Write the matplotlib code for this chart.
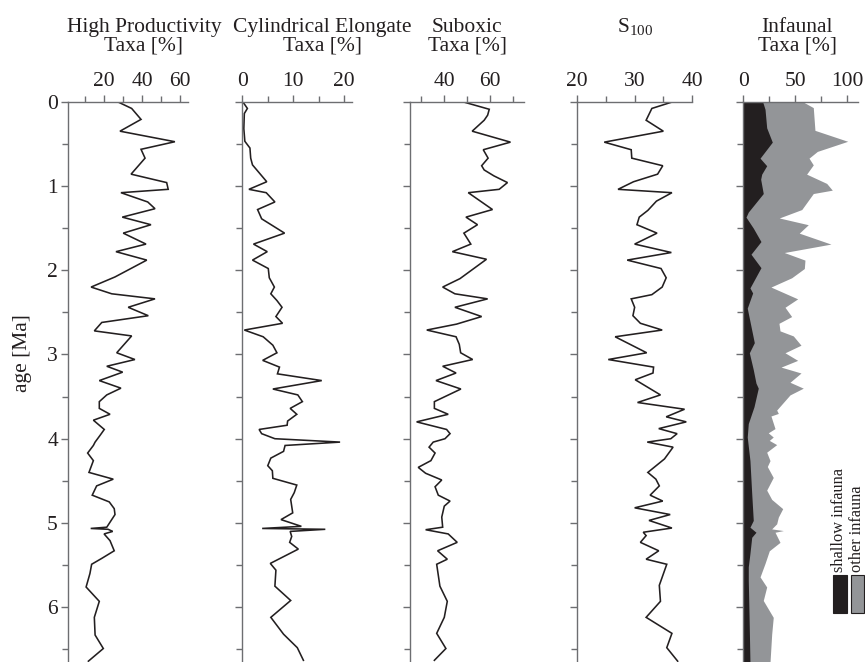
import matplotlib
matplotlib.use('Agg')
import matplotlib.pyplot as plt
from matplotlib.ticker import FixedLocator, NullFormatter
from matplotlib.patches import Rectangle

plt.rcParams['font.family'] = ['Liberation Serif', 'DejaVu Serif']
plt.rcParams['mathtext.fontset'] = 'custom'
plt.rcParams['mathtext.rm'] = 'Liberation Serif'

# ---------------- data ----------------
hp_age = [0.01, 0.08, 0.21, 0.35, 0.475, 0.565, 0.67, 0.86, 0.96, 1.04, 1.08, 1.19, 1.27, 1.37,
          1.46, 1.56, 1.69, 1.78, 1.88, 2.08, 2.20, 2.28, 2.34, 2.44, 2.54, 2.62, 2.72, 2.78,
          2.98, 3.06, 3.14, 3.21, 3.31, 3.40, 3.48, 3.56, 3.64, 3.71, 3.78, 3.89, 3.96, 4.04,
          4.08, 4.17, 4.26, 4.40, 4.48, 4.56, 4.67, 4.75, 4.83, 4.90, 5.05, 5.065, 5.075, 5.10,
          5.13, 5.21, 5.33, 5.42, 5.49, 5.60, 5.76, 5.93, 6.12, 6.33, 6.49, 6.64]
hp_val = [28.1, 34.6, 39.5, 28.5, 57.2, 39.5, 41.6, 34.3, 52.9, 53.7, 29.0, 43.0, 46.8, 29.7,
          44.7, 30.2, 42.1, 26.4, 42.5, 25.9, 13.4, 24.2, 46.8, 32.8, 43.3, 19.0, 15.1, 34.6,
          26.8, 36.3, 21.6, 29.9, 17.7, 29.0, 21.6, 17.7, 17.7, 23.3, 14.6, 20.3, 18.1, 15.5,
          14.6, 11.6, 14.6, 12.3, 25.0, 16.3, 14.0, 22.9, 25.5, 25.9, 21.6, 13.2, 22.3, 24.7,
          20.2, 23.3, 25.5, 19.0, 13.7, 12.8, 10.8, 17.7, 15.1, 15.5, 19.8, 12.0]

ce_age = [0.01, 0.08, 0.14, 0.32, 0.47, 0.55, 0.67, 0.75, 0.95, 1.04, 1.08, 1.19, 1.28, 1.39,
          1.56, 1.69, 1.78, 1.88, 1.98, 2.09, 2.20, 2.28, 2.36, 2.44, 2.55, 2.63, 2.71, 2.79,
          2.89, 2.98, 3.07, 3.15, 3.23, 3.31, 3.41, 3.48, 3.56, 3.64, 3.71, 3.79, 3.84, 3.89,
          3.94, 4.00, 4.04, 4.08, 4.15, 4.23, 4.32, 4.38, 4.47, 4.55, 4.64, 4.72, 4.88, 4.96,
          5.04, 5.065, 5.075, 5.10, 5.16, 5.23, 5.31, 5.48, 5.56, 5.75, 5.92, 6.12, 6.32, 6.48, 6.63]
ce_val = [0.2, 1.0, 0.4, 0.3, 0.5, 1.5, 1.65, 2.0, 4.8, 1.3, 4.7, 6.4, 3.0, 3.8,
          8.3, 2.2, 4.9, 2.0, 5.1, 5.3, 6.3, 5.6, 6.8, 7.8, 6.6, 7.9, 0.4, 4.1,
          6.0, 6.8, 4.0, 7.3, 6.9, 15.6, 6.0, 10.9, 11.8, 9.4, 10.7, 8.9, 8.8, 3.3,
          3.8, 6.4, 19.2, 8.4, 8.1, 5.6, 5.0, 5.9, 6.0, 10.7, 10.2, 9.5, 9.9, 7.6,
          11.6, 3.9, 16.3, 9.4, 9.7, 9.3, 11.0, 5.5, 6.6, 6.4, 9.5, 5.6, 8.1, 10.8, 12.0]

sub_age = [0.01, 0.09, 0.16, 0.22, 0.35, 0.48, 0.57, 0.67, 0.76, 0.81, 0.88, 0.96, 1.04, 1.08,
           1.28, 1.37, 1.46, 1.56, 1.69, 1.78, 1.87, 2.10, 2.20, 2.28, 2.34, 2.44, 2.55, 2.64,
           2.71, 2.79, 2.88, 2.98, 3.06, 3.14, 3.22, 3.31, 3.41, 3.56, 3.64, 3.71, 3.80, 3.89,
           3.94, 4.00, 4.04, 4.10, 4.17, 4.26, 4.34, 4.41, 4.49, 4.57, 4.67, 4.74, 4.80, 4.93,
           5.05, 5.08, 5.13, 5.23, 5.33, 5.43, 5.49, 5.75, 5.93, 6.12, 6.31, 6.49, 6.63]
sub_val = [49.3, 59.6, 58.9, 57.4, 52.2, 68.8, 57.0, 59.1, 56.3, 57.4, 61.6, 67.5, 63.9, 50.5,
           61.0, 49.5, 54.5, 48.6, 51.6, 43.6, 58.4, 46.9, 39.4, 44.7, 58.9, 44.7, 56.3, 45.4,
           32.5, 45.2, 46.6, 47.2, 52.4, 39.4, 45.2, 36.5, 47.3, 35.8, 35.8, 41.8, 28.1, 41.1,
           42.6, 40.4, 35.3, 33.5, 36.1, 34.3, 28.8, 32.0, 39.0, 36.1, 37.5, 42.6, 40.1, 39.0,
           39.4, 32.0, 41.8, 45.7, 37.2, 41.4, 36.8, 38.2, 41.4, 40.1, 36.8, 40.8, 35.8]

s100_age = [0.00, 0.08, 0.22, 0.35, 0.48, 0.57, 0.67, 0.76, 0.86, 0.95, 1.04, 1.08, 1.18, 1.29,
            1.37, 1.46, 1.56, 1.69, 1.79, 1.88, 1.98, 2.09, 2.20, 2.29, 2.34, 2.44, 2.54, 2.63,
            2.71, 2.79, 2.98, 3.06, 3.15, 3.22, 3.30, 3.48, 3.57, 3.65, 3.74, 3.80, 3.88, 3.94,
            4.00, 4.04, 4.10, 4.24, 4.40, 4.48, 4.56, 4.67, 4.74, 4.82, 4.90, 4.97, 5.06, 5.11,
            5.15, 5.23, 5.33, 5.43, 5.49, 5.74, 5.93, 6.12, 6.31, 6.48, 6.64]
s100_val = [36.7, 33.0, 32.0, 35.0, 24.7, 29.4, 29.5, 34.9, 34.0, 29.8, 27.1, 36.5, 33.8, 32.3,
            30.8, 30.4, 33.9, 30.0, 36.4, 28.7, 34.6, 35.5, 34.8, 33.0, 29.4, 30.0, 29.7, 31.0,
            34.8, 26.6, 32.1, 25.4, 33.3, 33.2, 30.1, 34.5, 30.5, 38.7, 35.5, 39.0, 34.2, 37.4,
            36.3, 32.2, 36.7, 35.2, 32.3, 33.7, 34.3, 32.7, 34.9, 30.0, 36.2, 32.5, 36.5, 31.5,
            32.0, 31.0, 34.2, 32.0, 35.6, 34.3, 34.5, 32.0, 36.5, 35.6, 37.5]

shallow_age = [0.00, 0.09, 0.31, 0.48, 0.67, 0.76, 0.86, 0.92, 1.09, 1.31, 1.37, 1.50, 1.66, 1.81,
               1.97, 2.21, 2.27, 2.45, 2.86, 2.98, 3.18, 3.34, 3.40, 3.62, 3.82, 3.98, 4.26, 4.65,
               4.97, 5.05, 5.11, 5.17, 5.36, 5.52, 5.68, 6.08, 6.65]
shallow_val = [18.6, 20.9, 22.5, 27.9, 16.1, 22.5, 17.7, 16.7, 19.2, 4.8, 2.6, 9.6, 17.0, 7.4,
               17.0, 6.4, 9.0, 3.8, 10.6, 5.8, 9.6, 12.2, 14.4, 10.3, 4.8, 3.8, 6.4, 8.1,
               9.6, 6.4, 12.2, 8.1, 6.4, 4.8, 4.8, 5.5, 6.4]

total_age = [0.00, 0.07, 0.34, 0.47, 0.59, 0.67, 0.75, 0.86, 0.97, 1.05, 1.09, 1.28, 1.38, 1.46,
             1.56, 1.69, 1.79, 1.88, 1.98, 2.09, 2.20, 2.34, 2.44, 2.55, 2.63, 2.72, 2.78, 2.89,
             2.98, 3.07, 3.15, 3.22, 3.33, 3.40, 3.48, 3.66, 3.70, 3.73, 3.88, 3.93, 3.98, 4.02,
             4.07, 4.16, 4.26, 4.33, 4.46, 4.61, 4.72, 4.83, 4.93, 5.01, 5.07, 5.09, 5.11, 5.23,
             5.33, 5.48, 5.64, 5.76, 5.92, 6.12, 6.32, 6.65]
total_val = [57.1, 67.3, 68.9, 100.4, 71.2, 63.2, 67.3, 60.9, 80.2, 85.6, 67.3, 56.2, 34.6, 62.5,
             53.8, 84.3, 39.4, 59.3, 58.7, 46.5, 26.6, 52.3, 40.1, 46.5, 34.3, 35.3, 48.1, 55.5,
             40.1, 52.3, 36.3, 55.5, 44.9, 57.7, 44.9, 32.1, 33.7, 26.6, 30.5, 24.0, 28.8, 25.0,
             32.1, 22.5, 25.7, 23.1, 28.8, 22.5, 27.3, 37.9, 33.7, 32.1, 27.3, 38.5, 30.5, 35.3,
             25.0, 20.9, 16.1, 22.5, 19.2, 28.8, 27.3, 25.7]

age_ticks = [0, 1, 2, 3, 4, 5, 6]
age_labels = ['0', '1', '2', '3', '4', '5', '6']

# ---------------- layout ----------------
W, H = 865, 662
fig = plt.figure(figsize=(W / 100, H / 100), dpi=100)
TOP = 101.7
AGE_MAX = 6.65
FS = 15.5
SPINE = '#6d6e71'
INK = '#231f20'
DARK = '#231f20'
GREY = '#939598'


def make_axes(x0, x1, xlim, major, minor, ylabels=False):
    ax = fig.add_axes([x0 / W, 0, (x1 - x0) / W, 1 - TOP / H])
    ax.set_xlim(*xlim)
    ax.set_ylim(AGE_MAX, 0)
    ax.xaxis.set_ticks_position('top')
    ax.xaxis.set_major_locator(FixedLocator(major))
    ax.xaxis.set_minor_locator(FixedLocator(minor))
    ax.yaxis.set_major_locator(FixedLocator(age_ticks))
    ax.yaxis.set_minor_locator(FixedLocator([a + 0.5 for a in age_ticks]))
    for s in ('right', 'bottom'):
        ax.spines[s].set_visible(False)
    for s in ('top', 'left'):
        ax.spines[s].set_color(SPINE)
        ax.spines[s].set_linewidth(1.0)
    ax.tick_params(axis='both', which='both', direction='out', color=SPINE, width=1.0,
                   labelsize=FS, labelcolor=INK, pad=2.5)
    ax.tick_params(axis='both', which='major', length=5)
    ax.tick_params(axis='both', which='minor', length=4.5)
    if ylabels:
        ax.set_yticklabels(age_labels)
    else:
        ax.yaxis.set_major_formatter(NullFormatter())
    ax.patch.set_alpha(0)
    return ax


ax1 = make_axes(68.3, 188.3, (1.5, 64.2), [20, 40, 60], [10, 30, 50], ylabels=True)
ax2 = make_axes(242.3, 352.3, (0, 21.6), [0, 10, 20], [5, 15])
ax3 = make_axes(409.7, 524.3, (25.1, 74.8), [40, 60], [30, 50, 70])
ax4 = make_axes(577.3, 692.0, (20, 40), [20, 30, 40], [25, 35])
ax5 = make_axes(743.3, 858.0, (0, 110.3), [0, 50, 100], [25, 75])

lw = 1.15
ax1.plot(hp_val, hp_age, color=INK, lw=lw, solid_joinstyle='miter')
ax2.plot(ce_val, ce_age, color=INK, lw=lw, solid_joinstyle='miter')
ax3.plot(sub_val, sub_age, color=INK, lw=lw, solid_joinstyle='miter')
ax4.plot(s100_val, s100_age, color=INK, lw=lw, solid_joinstyle='miter')

ax5.fill_betweenx(total_age, 0, total_val, color=GREY, lw=0)
ax5.fill_betweenx(shallow_age, 0, shallow_val, color=DARK, lw=0)


# ---------------- titles ----------------
def ftext(x, y, s, **kw):
    fig.text(x / W, 1 - y / H, s, fontsize=kw.pop('fontsize', FS), color=INK, **kw)


ftext(22, 353, 'age [Ma]', rotation=90, ha='center', va='center')

ftext(144, 31.7, 'High Productivity', ha='center', va='baseline')
ftext(144, 50, 'Taxa [%]', ha='center', va='baseline')
ftext(322.5, 31.7, 'Cylindrical Elongate', ha='center', va='baseline')
ftext(322.5, 50, 'Taxa [%]', ha='center', va='baseline')
ftext(467, 31.7, 'Suboxic', ha='center', va='baseline')
ftext(467, 50, 'Taxa [%]', ha='center', va='baseline')
ftext(635, 31.7, r'$\mathregular{S_{100}}$', ha='center', va='baseline')
ftext(797, 31.7, 'Infaunal', ha='center', va='baseline')
ftext(797, 50, 'Taxa [%]', ha='center', va='baseline')

# ---------------- legend ----------------
fig.add_artist(Rectangle((832.7 / W, 1 - 613.3 / H), 14 / W, 38.3 / H, transform=fig.transFigure,
                         facecolor=DARK, edgecolor=INK, lw=0.8))
fig.add_artist(Rectangle((850.7 / W, 1 - 613.3 / H), 13.6 / W, 38.3 / H, transform=fig.transFigure,
                         facecolor=GREY, edgecolor=INK, lw=0.8))
ftext(839, 571.5, 'shallow infauna', rotation=90, ha='center', va='bottom', fontsize=11.8)
ftext(857, 571.5, 'other infauna', rotation=90, ha='center', va='bottom', fontsize=11.8)

fig.savefig('out.png', dpi=100)
